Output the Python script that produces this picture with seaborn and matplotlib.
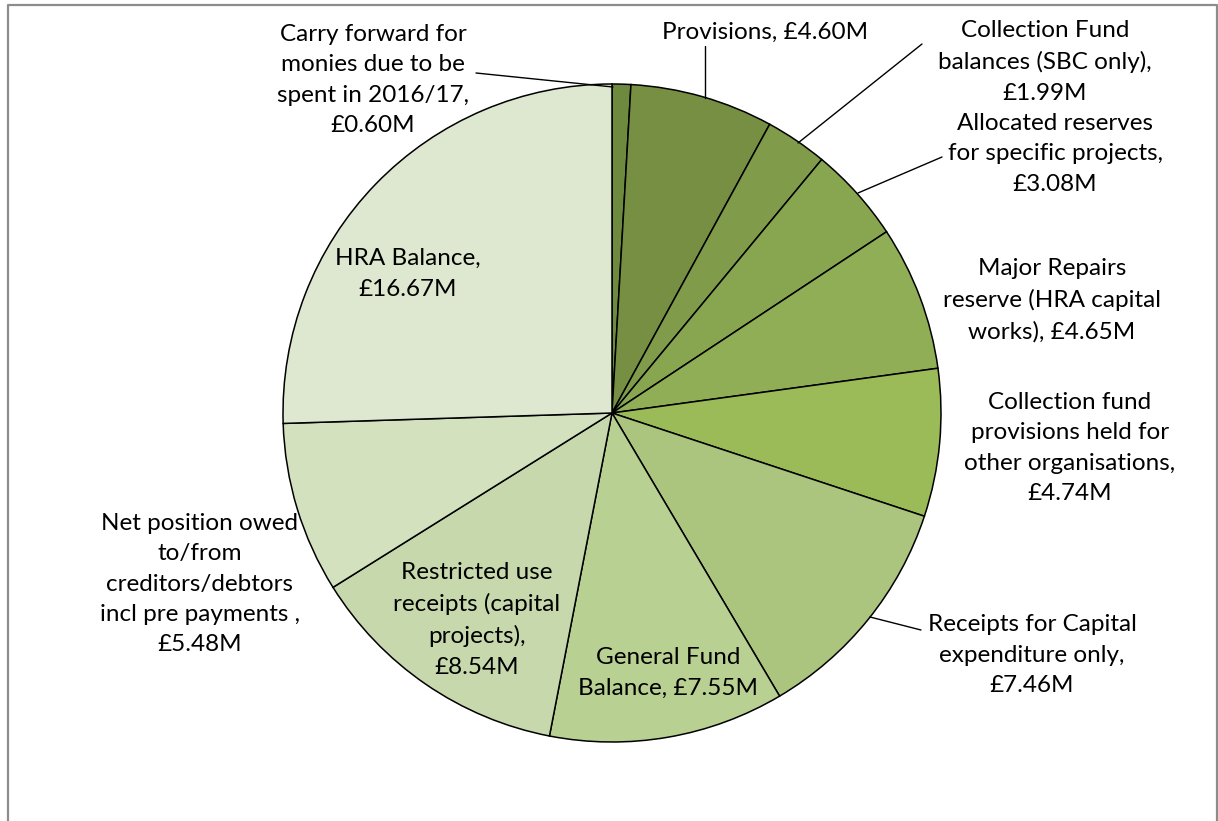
import matplotlib
matplotlib.use("Agg")
import matplotlib.pyplot as plt
from matplotlib.lines import Line2D
import seaborn as sns

# ---- data ----
categories = [
    "Carry forward for\nmonies due to be\nspent in 2016/17,\n£0.60M",
    "Provisions, £4.60M",
    "Collection Fund\nbalances (SBC only),\n£1.99M",
    "Allocated reserves\nfor specific projects,\n£3.08M",
    "Major Repairs\nreserve (HRA capital\nworks), £4.65M",
    "Collection fund\nprovisions held for\nother organisations,\n£4.74M",
    "Receipts for Capital\nexpenditure only,\n£7.46M",
    "General Fund\nBalance, £7.55M",
    "Restricted use\nreceipts (capital\nprojects),\n£8.54M",
    "Net position owed\nto/from\ncreditors/debtors\nincl pre payments ,\n£5.48M",
    "HRA Balance,\n£16.67M",
]
values = [0.60, 4.60, 1.99, 3.08, 4.65, 4.74, 7.46, 7.55, 8.54, 5.48, 16.67]
colors = ["#6e8a3e", "#778f43", "#809c4a", "#88a650", "#8fae56", "#9bbb59",
          "#abc57f", "#b9d093", "#c7d9ac", "#d3e1be", "#dee7cf"]

# ---- layout (pixels in the 1218x821 canvas) ----
W, H = 1218, 821
CX, CY, R = 612, 413, 329
label_pos = [(373, 80), (765, 32), (1045, 62), (1055, 154), (1052, 300),
             (1070, 448), (1032, 655), (668, 673), (477, 620), (200, 584),
             (408, 274)]
leaders = [[(476, 73), (613, 87)],
           [(705, 46), (705, 98)],
           [(922, 44), (798, 143)],
           [(942, 157), (858, 193)],
           None, None,
           [(921, 630), (870, 617)],
           None, None, None, None]

def px2d(p):
    return ((p[0] - CX) / R, (CY - p[1]) / R)

sns.set_theme(style="white")
plt.rcParams["font.family"] = ["Lato", "DejaVu Sans"]

fig = plt.figure(figsize=(W / 100, H / 100), dpi=100)
ax = fig.add_axes([0, 0, 1, 1])
ax.pie(values, colors=colors, startangle=90, counterclock=False, radius=1,
       wedgeprops=dict(edgecolor="black", linewidth=1.1))
ax.set_xlim(-CX / R, (W - CX) / R)
ax.set_ylim(-(H - CY) / R, CY / R)
ax.set_aspect("equal")
ax.axis("off")

for lab, pos, ld in zip(categories, label_pos, leaders):
    x, y = px2d(pos)
    ax.text(x, y, lab, ha="center", va="center", fontsize=17.5,
            linespacing=1.55, color="black")
    if ld is not None:
        (x0, y0), (x1, y1) = px2d(ld[0]), px2d(ld[1])
        ax.plot([x0, x1], [y0, y1], color="black", lw=1.0)

# outer frame (open at the bottom)
bx0, bx1, by0 = 7.5 / W, 1216.5 / W, 1 - 5.5 / H
fig.add_artist(Line2D([bx0, bx0, bx1, bx1], [0, by0, by0, 0],
                      transform=fig.transFigure, color="#8c8c8c", lw=1.6))

fig.savefig("out.png", dpi=100)
